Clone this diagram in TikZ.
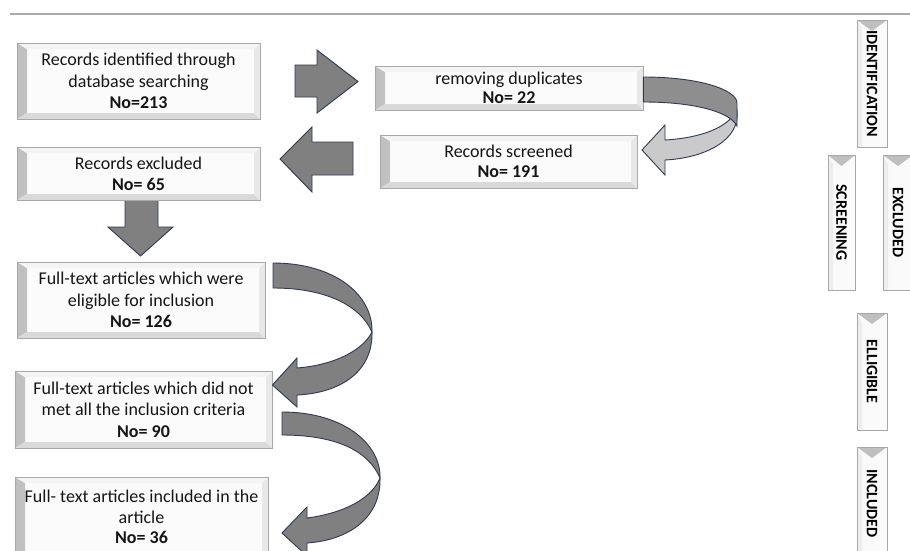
\documentclass[tikz,border=0pt]{standalone}
\usepackage{fontspec}
\setmainfont{Carlito}
\definecolor{edgec}{HTML}{2E3A52}
\definecolor{arrowc}{HTML}{808080}
\definecolor{darkband}{HTML}{8E8E8E}
\definecolor{lightband}{HTML}{CACACA}
\definecolor{boxedge}{HTML}{A8A8A8}
\definecolor{txt}{HTML}{151515}
\begin{document}
\begin{tikzpicture}[x=1pt,y=-1pt,
  box/.style={draw=boxedge, line width=0.8pt, fill=gray!3, align=center,
    text=txt, inner sep=0pt, font=\fontsize{18}{21.5}\selectfont,
    path picture={
      \fill[left color=gray!50, right color=gray!12]
        (path picture bounding box.south west) -- (path picture bounding box.north west)
        -- ([xshift=10pt,yshift=-6pt]path picture bounding box.north west)
        -- ([xshift=10pt,yshift=6pt]path picture bounding box.south west) -- cycle;
      \fill[gray!30]
        (path picture bounding box.south west) -- ([xshift=10pt,yshift=6pt]path picture bounding box.south west)
        -- ([xshift=-6pt,yshift=6pt]path picture bounding box.south east) -- (path picture bounding box.south east) -- cycle;
      \fill[gray!18]
        (path picture bounding box.south east) -- ([xshift=-6pt,yshift=6pt]path picture bounding box.south east)
        -- ([xshift=-6pt,yshift=-6pt]path picture bounding box.north east) -- (path picture bounding box.north east) -- cycle;
      \fill[gray!9]
        (path picture bounding box.north west) -- ([xshift=10pt,yshift=-6pt]path picture bounding box.north west)
        -- ([xshift=-6pt,yshift=-6pt]path picture bounding box.north east) -- (path picture bounding box.north east) -- cycle;
    }},
  tab/.style={draw=boxedge, line width=0.8pt, fill=gray!4, inner sep=0pt,
    text=black, font=\bfseries\fontsize{16}{18}\selectfont,
    path picture={
      \fill[gray!14]
        (path picture bounding box.north west) -- (path picture bounding box.south west)
        -- ([xshift=5pt]path picture bounding box.south west) -- ([xshift=5pt,yshift=-10pt]path picture bounding box.north west) -- cycle;
      \fill[gray!50]
        (path picture bounding box.north west) -- (path picture bounding box.north east)
        -- ([yshift=-11pt]path picture bounding box.north) -- cycle;
    }},
  blk/.style={draw=edgec, line width=0.9pt, fill=arrowc, line join=miter},
]
\useasboundingbox (0,0) rectangle (910,550);
\fill[white] (0,0) rectangle (910,550);

% top rule
\coordinate (ruleL) at (10,14);
\coordinate (ruleR) at (910,14);
\draw[gray!65, line width=1.6pt] (ruleL) -- (ruleR);

% straight block arrows
\draw[blk] (295,65) -- (317,65) -- (317,50) -- (358,81.5) -- (317,113) -- (317,97) -- (295,97) -- cycle;
\draw[blk] (353,142) -- (312,142) -- (312,127) -- (280,159) -- (312,192) -- (312,175) -- (353,175) -- cycle;
\draw[blk] (125,198) -- (158,198) -- (158,227) -- (173,227) -- (140.5,256) -- (108,227) -- (125,227) -- cycle;

% boxes
\node[box, minimum width=243, minimum height=76] (b1) at (138.5,81)
  {Records identified through\\database searching\\\textbf{No=213}};
\node[box, minimum width=268, minimum height=44, font=\fontsize{18}{19.5}\selectfont] (b2) at (509,88)
  {removing duplicates\\\textbf{No= 22}};
\node[box, minimum width=257, minimum height=53, font=\fontsize{18}{20.5}\selectfont] (b3) at (508.5,161.5)
  {Records screened\\\textbf{No= 191}};
\node[box, minimum width=243, minimum height=53, font=\fontsize{18}{21}\selectfont] (b4) at (138.5,173.5)
  {Records excluded\\\textbf{No= 65}};
\node[box, minimum width=248, minimum height=76] (b5) at (141,300)
  {Full-text articles which were\\eligible for inclusion\\\textbf{No= 126}};
\node[box, minimum width=257, minimum height=77] (b6) at (143.5,409.5)
  {Full-text articles which did not\\met all the inclusion criteria\\\textbf{No= 90}};
\node[box, minimum width=253, minimum height=80, font=\fontsize{18}{20.5}\selectfont] (b7) at (141.5,517)
  {Full- text articles included in the\\article\\\textbf{No= 36}};

% curved arrow b2 -> b3
\draw[draw=edgec, line width=0.9pt, fill=lightband, line join=miter]
  (737,110) .. controls (741,140) and (705,158) .. (665,160) -- (665,175) -- (642,150)
  -- (665,125) -- (665,140) .. controls (700,138) and (728,128) .. (737,110) -- cycle;
\draw[draw=edgec, line width=0.9pt, fill=darkband]
  (b2.east |- 0,77) .. controls (700,77) and (737,90) .. (737,103) -- (737,126)
  .. controls (730,112) and (695,102) .. (b2.east |- 0,102) -- cycle;

% curved arrow b5 -> b6
\draw[draw=edgec, line width=0.9pt, fill=arrowc, line join=miter]
  (372,332) .. controls (373,372) and (340,393) .. (297,395) -- (297,407) -- (b6.east |- 0,385)
  -- (297,358) -- (297,368) .. controls (335,365) and (363,350) .. (372,332) -- cycle;
\draw[draw=edgec, line width=0.9pt, fill=arrowc]
  (273,263) .. controls (335,263) and (373,295) .. (372,332)
  .. controls (360,305) and (325,288) .. (273,288) -- cycle;

% curved arrow b6 -> b7
\draw[draw=edgec, line width=0.9pt, fill=arrowc, line join=miter]
  (380,478) .. controls (381,517) and (350,540) .. (307,543) -- (307,556) -- (282,533)
  -- (307,507) -- (307,518) .. controls (345,513) and (372,498) .. (380,478) -- cycle;
\draw[draw=edgec, line width=0.9pt, fill=arrowc]
  (282,412) .. controls (345,412) and (381,445) .. (380,478)
  .. controls (368,450) and (335,435) .. (282,435) -- cycle;

% side tabs
\node[tab, minimum width=30, minimum height=127] (t1) at (872,83.5)
  {\rotatebox{-90}{IDENTIFICATION}};
\node[tab, minimum width=27, minimum height=135] (t2) at (841.5,222.5)
  {\rotatebox{-90}{SCREENING}};
\node[tab, minimum width=30, minimum height=135] (t3) at (898,222.5)
  {\rotatebox{-90}{EXCLUDED}};
\node[tab, minimum width=30, minimum height=117] (t4) at (872,371.5)
  {\rotatebox{-90}{ELLIGIBLE}};
\node[tab, minimum width=30, minimum height=113] (t5) at (872,503.5)
  {\rotatebox{-90}{INCLUDED}};
\end{tikzpicture}
\end{document}
